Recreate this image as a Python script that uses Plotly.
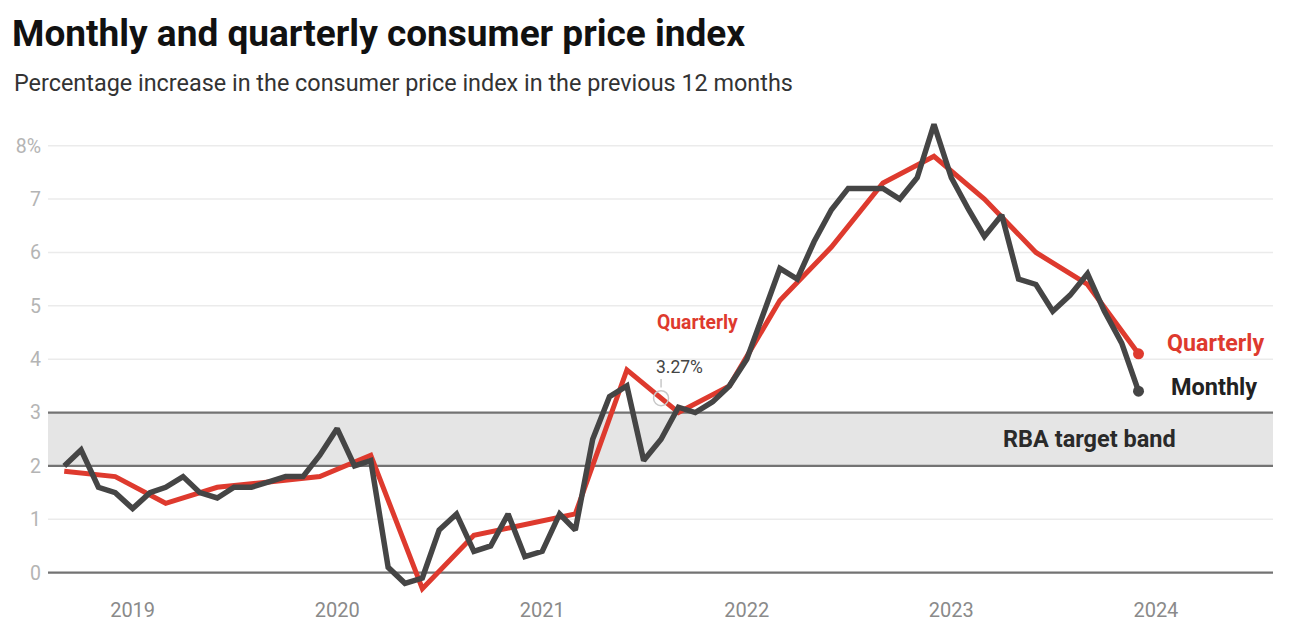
import numpy as np
import pandas as pd
import plotly.graph_objects as go

# ---- Data (annual % change) ----
monthly_start = "2018-09-01"
monthly_values = [
    2.0, 2.3, 1.6, 1.5,                                              # 2018 Sep-Dec
    1.2, 1.5, 1.6, 1.8, 1.5, 1.4, 1.6, 1.6, 1.7, 1.8, 1.8, 2.2,      # 2019
    2.7, 2.0, 2.1, 0.1, -0.2, -0.1, 0.8, 1.1, 0.4, 0.5, 1.1, 0.3,    # 2020
    0.4, 1.1, 0.8, 2.5, 3.3, 3.5, 2.1, 2.5, 3.1, 3.0, 3.2, 3.5,      # 2021
    4.0, 4.9, 5.7, 5.5, 6.2, 6.8, 7.2, 7.2, 7.2, 7.0, 7.4, 8.4,      # 2022
    7.4, 6.8, 6.3, 6.7, 5.5, 5.4, 4.9, 5.2, 5.6, 4.9, 4.3, 3.4,      # 2023
]
quarterly_start = "2018-09-01"
quarterly_values = [
    1.9, 1.8,
    1.3, 1.6, 1.7, 1.8,
    2.2, -0.3, 0.7, 0.9,
    1.1, 3.8, 3.0, 3.5,
    5.1, 6.1, 7.3, 7.8,
    7.0, 6.0, 5.4, 4.1,
]
year_ticks = ["2019-01-01", "2020-01-01", "2021-01-01", "2022-01-01", "2023-01-01", "2024-01-01"]
year_labels = ["2019", "2020", "2021", "2022", "2023", "2024"]
y_ticks = [0, 1, 2, 3, 4, 5, 6, 7, 8]
y_labels = ["0", "1", "2", "3", "4", "5", "6", "7", "8%"]
band_low, band_high = 2, 3
dark_rules = [0, band_low, band_high]
hover_date = "2021-08-01"

monthly_dates = pd.date_range(monthly_start, periods=len(monthly_values), freq="MS")
quarterly_dates = pd.date_range(quarterly_start, periods=len(quarterly_values), freq="3MS")

RED = "#de3a2e"
DARK = "#454545"
FONT = "Roboto"

# interpolated value on the quarterly line at hover date
qt = quarterly_dates.values.astype("datetime64[D]").astype(float)
ht = np.datetime64(hover_date, "D").astype(float)
hover_val = float(np.interp(ht, qt, quarterly_values))

fig = go.Figure()

fig.add_trace(go.Scatter(
    x=quarterly_dates, y=quarterly_values, mode="lines",
    line=dict(color=RED, width=5), hoverinfo="skip", showlegend=False,
))
fig.add_trace(go.Scatter(
    x=monthly_dates, y=monthly_values, mode="lines",
    line=dict(color=DARK, width=5.5), hoverinfo="skip", showlegend=False,
))
# end dots
fig.add_trace(go.Scatter(
    x=[quarterly_dates[-1]], y=[quarterly_values[-1]], mode="markers",
    marker=dict(color=RED, size=11), hoverinfo="skip", showlegend=False,
))
fig.add_trace(go.Scatter(
    x=[monthly_dates[-1]], y=[monthly_values[-1]], mode="markers",
    marker=dict(color=DARK, size=11), hoverinfo="skip", showlegend=False,
))
# hover circle
fig.add_trace(go.Scatter(
    x=[pd.Timestamp(hover_date)], y=[hover_val], mode="markers",
    marker=dict(color="rgba(0,0,0,0)", size=15, line=dict(color="#c8c8c8", width=1.5)),
    hoverinfo="skip", showlegend=False,
))

shapes = [
    dict(type="rect", xref="paper", x0=0, x1=1, yref="y", y0=band_low, y1=band_high,
         fillcolor="#e5e5e5", line=dict(width=0), layer="below"),
]
for v in y_ticks:
    if v in dark_rules:
        continue
    shapes.append(dict(type="line", xref="paper", x0=0, x1=1, yref="y", y0=v, y1=v,
                       line=dict(color="#ebebeb", width=1.5), layer="below"))
for v in dark_rules:
    shapes.append(dict(type="line", xref="paper", x0=0, x1=1, yref="y", y0=v, y1=v,
                       line=dict(color="#737373", width=2.2), layer="below"))
shapes.append(dict(type="line", xref="x", x0=hover_date, x1=hover_date, yref="y",
                   y0=hover_val + 0.2, y1=hover_val + 0.36,
                   line=dict(color="#c8c8c8", width=1.5), layer="above"))

PLOT_TOP, PLOT_BOTTOM = 119, 596
annotations = [
    dict(text="Percentage increase in the consumer price index in the previous 12 months",
         xref="paper", yref="paper", x=(12 - 48) / 1225,
         y=(PLOT_BOTTOM - 83) / (PLOT_BOTTOM - PLOT_TOP),
         xanchor="left", yanchor="middle", showarrow=False,
         font=dict(family=FONT, size=23.4, color="#333333")),
    dict(text="<b>Quarterly</b>", x=quarterly_dates[-1], y=quarterly_values[-1],
         xanchor="left", yanchor="middle", xshift=26, yshift=11, showarrow=False,
         font=dict(family=FONT, size=23.2, color=RED)),
    dict(text="<b>Monthly</b>", x=monthly_dates[-1], y=monthly_values[-1],
         xanchor="left", yanchor="middle", xshift=30, yshift=4, showarrow=False,
         font=dict(family=FONT, size=23.5, color="#222222")),
    dict(text="<b>RBA target band</b>", xref="paper", x=(1089 - 48) / 1225,
         y=(band_low + band_high) / 2, xanchor="center", yanchor="middle", showarrow=False,
         font=dict(family=FONT, size=23.5, color="#2a2a2a")),
    dict(text="<b>Quarterly</b>", x=hover_date, y=hover_val,
         xanchor="center", yanchor="middle", xshift=36, yshift=76, showarrow=False,
         font=dict(family=FONT, size=19.3, color=RED)),
    dict(text=f"{hover_val:.2f}%", x=hover_date, y=hover_val,
         xanchor="center", yanchor="middle", xshift=18, yshift=31, showarrow=False,
         font=dict(family=FONT, size=17.5, color="#444444")),
]

fig.update_layout(
    width=1315, height=627,
    margin=dict(l=48, r=42, t=PLOT_TOP, b=627 - PLOT_BOTTOM, autoexpand=False),
    paper_bgcolor="white", plot_bgcolor="white",
    title=dict(text="<b>Monthly and quarterly consumer price index</b>",
               xref="container", yref="container", x=12 / 1315, y=1 - 33 / 627,
               xanchor="left", yanchor="middle",
               font=dict(family=FONT, size=37, color="#111111")),
    shapes=shapes, annotations=annotations,
    xaxis=dict(type="date", range=["2018-08-03", "2024-07-28"],
               tickvals=year_ticks, ticktext=year_labels,
               showgrid=False, zeroline=False, showline=False, ticks="",
               ticklabelstandoff=0, automargin=False,
               tickfont=dict(family=FONT, size=20, color="#8a8a8a")),
    yaxis=dict(range=[-0.437, 8.5], tickvals=y_ticks, ticktext=y_labels,
               showgrid=False, zeroline=False, showline=False, ticks="",
               ticklabelstandoff=6, automargin=False,
               tickfont=dict(family=FONT, size=19.5, color="#b4b4b4")),
    hovermode=False,
)

fig.write_html("out.html", config={"displayModeBar": False},
               post_script="document.body.style.margin='0';")
